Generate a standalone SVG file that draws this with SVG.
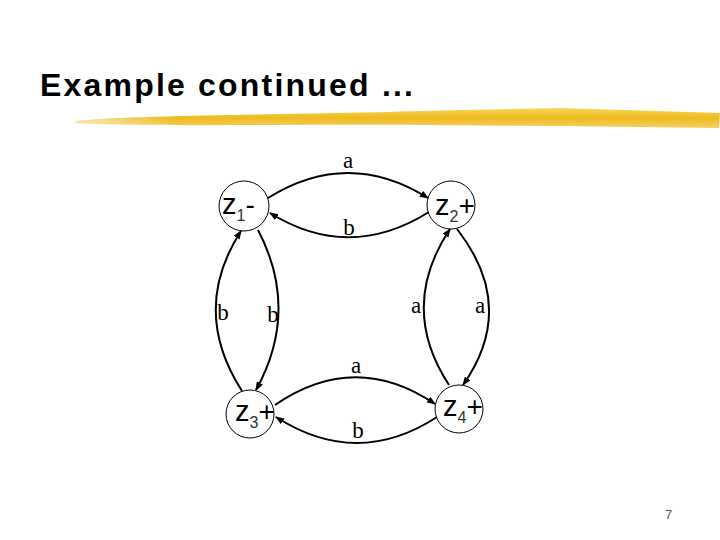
<svg xmlns="http://www.w3.org/2000/svg" width="720" height="540" viewBox="0 0 720 540">
  <defs>
    <marker id="arr" markerWidth="9" markerHeight="7" refX="8" refY="3.5" orient="auto" markerUnits="userSpaceOnUse">
      <path d="M0,0 L9,3.5 L0,7 z" fill="#000"/>
    </marker>
    <linearGradient id="brush" x1="0" y1="0" x2="0" y2="1">
      <stop offset="0" stop-color="#F8D75A"/>
      <stop offset="0.5" stop-color="#EEBB1E"/>
      <stop offset="1" stop-color="#F6D064"/>
    </linearGradient>
    <linearGradient id="fade" x1="0" y1="0" x2="1" y2="0">
      <stop offset="0" stop-color="#fff" stop-opacity="0.6"/>
      <stop offset="0.15" stop-color="#fff" stop-opacity="0"/>
      <stop offset="1" stop-color="#fff" stop-opacity="0"/>
    </linearGradient>
  </defs>
  <style>
    .title { font-family: "Liberation Sans", Arial, sans-serif; font-weight: bold; font-size: 32px; letter-spacing: 2.2px; fill: #000; }
    .node circle { fill: #fff; stroke: #000; stroke-width: 1; }
    .nt { font-family: "Liberation Sans", Arial, sans-serif; font-size: 29px; fill: #000; }
    .sub { font-size: 16px; fill: #333; }
    .op { font-size: 28px; }
    .edge { fill: none; stroke: #000; stroke-width: 2; marker-end: url(#arr); }
    .lbl { font-family: "Liberation Serif", "Times New Roman", serif; font-size: 23px; fill: #000; text-anchor: middle; }
    .pg { font-family: "Liberation Sans", Arial, sans-serif; font-size: 13px; fill: #555; }
  </style>
  <rect width="720" height="540" fill="#fff"/>
  <text class="title" x="40" y="96">Example continued ...</text>
  <path d="M75 121 C150 114 300 115 420 111 L560 108 L720 113 L719 128 L560 126 L420 125 C300 124 150 127 75 123 z" fill="url(#brush)"/>
  <path d="M75 121 C150 114 300 115 420 111 L560 108 L720 113 L719 128 L560 126 L420 125 C300 124 150 127 75 123 z" fill="url(#fade)"/>

  <g id="connectors">
    <path class="edge" d="M268 198 Q348 148 428 198"/>
    <path class="edge" d="M429 212 Q349 262 270 213"/>
    <path class="edge" d="M242 391 Q190 310 241 231"/>
    <path class="edge" d="M258 230 Q300 310 256 390"/>
    <path class="edge" d="M449 385 Q398 307 450 229"/>
    <path class="edge" d="M457 229 Q518 307 463 385"/>
    <path class="edge" d="M275 405 Q355 350 435 404"/>
    <path class="edge" d="M437 417 Q357 469 276 417"/>
    <text class="lbl" x="348" y="168">a</text>
    <text class="lbl" x="349" y="235">b</text>
    <text class="lbl" x="223" y="320">b</text>
    <text class="lbl" x="273" y="322">b</text>
    <text class="lbl" x="416" y="313">a</text>
    <text class="lbl" x="480" y="313">a</text>
    <text class="lbl" x="356" y="373">a</text>
    <text class="lbl" x="358" y="438">b</text>
  </g>

  <g id="z1" class="node">
    <circle cx="244" cy="206" r="25"/>
    <text class="nt" x="222" y="214">z<tspan class="sub" dy="7">1</tspan><tspan class="op" dy="-7">-</tspan></text>
  </g>
  <g id="z2" class="node">
    <circle cx="451" cy="205" r="24"/>
    <text class="nt" x="435" y="215">z<tspan class="sub" dy="7">2</tspan><tspan class="op" dy="-7">+</tspan></text>
  </g>
  <g id="z3" class="node">
    <circle cx="250" cy="414" r="24"/>
    <text class="nt" x="235" y="421">z<tspan class="sub" dy="7">3</tspan><tspan class="op" dy="-7">+</tspan></text>
  </g>
  <g id="z4" class="node">
    <circle cx="459" cy="409" r="24"/>
    <text class="nt" x="443" y="416">z<tspan class="sub" dy="7">4</tspan><tspan class="op" dy="-7">+</tspan></text>
  </g>

  <text class="pg" x="665" y="519">7</text>
</svg>
